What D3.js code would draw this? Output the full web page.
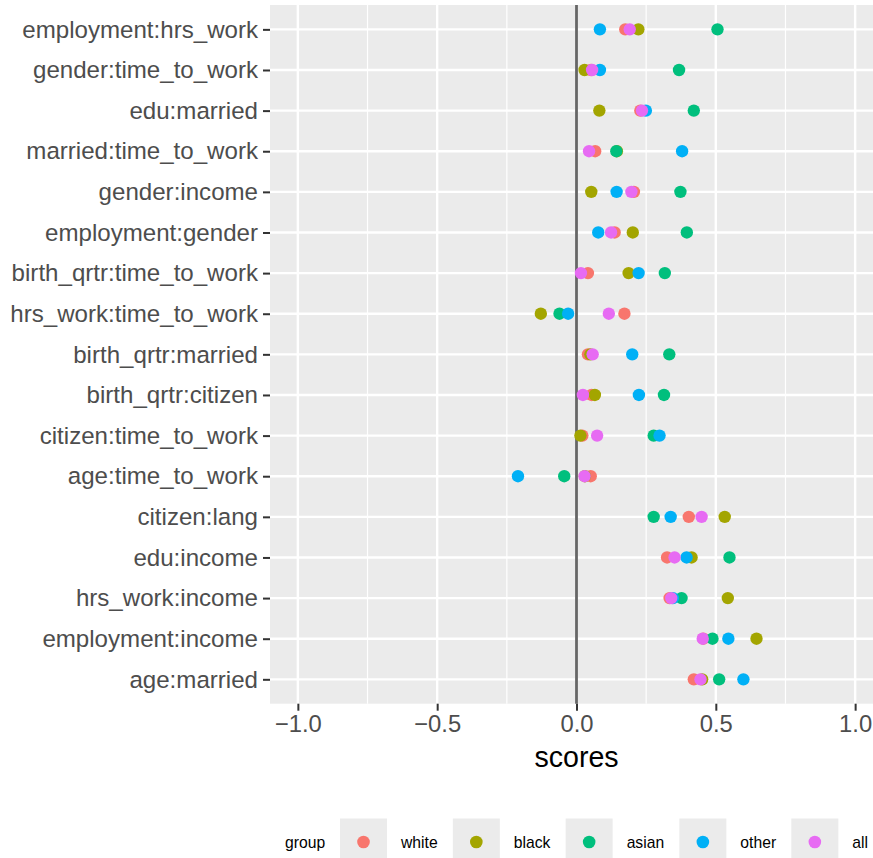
<!DOCTYPE html>
<html>
<head>
<meta charset="utf-8">
<script src="https://cdn.jsdelivr.net/npm/d3@7"></script>
<style>
  body { margin: 0; background: #fff; }
  text { font-family: "Liberation Sans", Arial, sans-serif; }
</style>
</head>
<body>
<svg id="chart"></svg>
<script>
const categories = [
  'employment:hrs_work', 'gender:time_to_work', 'edu:married', 'married:time_to_work',
  'gender:income', 'employment:gender', 'birth_qrtr:time_to_work', 'hrs_work:time_to_work',
  'birth_qrtr:married', 'birth_qrtr:citizen', 'citizen:time_to_work', 'age:time_to_work',
  'citizen:lang', 'edu:income', 'hrs_work:income', 'employment:income', 'age:married'
]
const groups = ['white', 'black', 'asian', 'other', 'all']
const colors = ['#F8766D', '#A3A500', '#00BF7D', '#00B0F6', '#E76BF3']

// scores per group, same order as categories
const white = [0.175, 0.052, 0.229, 0.067, 0.206, 0.137, 0.041, 0.172, 0.041, 0.054, 0.021, 0.051, 0.403, 0.325, 0.334, 0.455, 0.421]
const black = [0.222, 0.029, 0.082, 0.145, 0.053, 0.202, 0.187, -0.128, 0.050, 0.066, 0.014, 0.030, 0.532, 0.413, 0.543, 0.646, 0.451]
const asian = [0.506, 0.368, 0.421, 0.143, 0.373, 0.396, 0.317, -0.061, 0.333, 0.314, 0.277, -0.044, 0.277, 0.549, 0.377, 0.488, 0.512]
const other = [0.084, 0.084, 0.249, 0.379, 0.144, 0.078, 0.223, -0.030, 0.200, 0.224, 0.298, -0.210, 0.338, 0.395, 0.346, 0.545, 0.599]
const all = [0.191, 0.056, 0.235, 0.045, 0.197, 0.124, 0.016, 0.116, 0.058, 0.023, 0.074, 0.029, 0.449, 0.352, 0.340, 0.453, 0.445]

const xTicks = [-1, -0.5, 0, 0.5, 1]
const xMinor = [-0.75, -0.25, 0.25, 0.75]

const width = 873
const height = 858
const panel = { left: 270, right: 883, top: 5, bottom: 703.7 }

const svg = d3.select('#chart').attr('width', width).attr('height', height)

const x = d3.scaleLinear().domain([-1.1, 1.1]).range([panel.left, panel.right])
const y = d3.scalePoint().domain(categories).range([panel.top, panel.bottom]).padding(0.6)

/** panel background + grid */
svg.append('rect')
  .attr('x', panel.left).attr('y', panel.top)
  .attr('width', panel.right - panel.left).attr('height', panel.bottom - panel.top)
  .attr('fill', '#EBEBEB')

svg.append('g').selectAll('line').data(xMinor).enter().append('line')
  .attr('x1', d => x(d)).attr('x2', d => x(d))
  .attr('y1', panel.top).attr('y2', panel.bottom)
  .attr('stroke', '#fff').attr('stroke-width', 1.2)

svg.append('g').selectAll('line').data(xTicks).enter().append('line')
  .attr('x1', d => x(d)).attr('x2', d => x(d))
  .attr('y1', panel.top).attr('y2', panel.bottom)
  .attr('stroke', '#fff').attr('stroke-width', 2.4)

svg.append('g').selectAll('line').data(categories).enter().append('line')
  .attr('x1', panel.left).attr('x2', panel.right)
  .attr('y1', d => y(d)).attr('y2', d => y(d))
  .attr('stroke', '#fff').attr('stroke-width', 2.4)

// zero line
svg.append('line')
  .attr('x1', x(0)).attr('x2', x(0))
  .attr('y1', panel.top).attr('y2', panel.bottom)
  .attr('stroke', '#666').attr('stroke-width', 2.8)

/** points, one series at a time so "all" ends up on top */
const series = [white, black, asian, other, all]
series.forEach((vals, gi) => {
  svg.append('g').selectAll('circle').data(vals).enter().append('circle')
    .attr('cx', d => x(d))
    .attr('cy', (d, i) => y(categories[i]))
    .attr('r', 6.2)
    .attr('fill', colors[gi])
})

/** Axes */
const yAxis = d3.axisLeft(y).tickSize(7).tickPadding(5)
const gy = svg.append('g').attr('transform', `translate(${panel.left},0)`).call(yAxis)
gy.select('.domain').remove()
gy.selectAll('.tick line').attr('stroke', '#333').attr('stroke-width', 2)
gy.selectAll('.tick text').attr('fill', '#4D4D4D').style('font-size', '24.1px')

const xAxis = d3.axisBottom(x).tickValues(xTicks).tickSize(7).tickPadding(4)
  .tickFormat(d => d3.format('.1f')(d).replace('-', '\u2212'))
const gx = svg.append('g').attr('transform', `translate(0,${panel.bottom})`).call(xAxis)
gx.select('.domain').remove()
gx.selectAll('.tick line').attr('stroke', '#333').attr('stroke-width', 2)
gx.selectAll('.tick text').attr('fill', '#4D4D4D').style('font-size', '23.8px')

svg.append('text')
  .attr('x', x(0)).attr('y', 767)
  .attr('text-anchor', 'middle')
  .style('font-size', '28.6px')
  .attr('fill', '#000')
  .text('scores')

/** Legend */
const legend = svg.append('g')
const legY = 842
const keySize = 47
legend.append('text')
  .attr('x', 285).attr('y', legY + 5.5)
  .style('font-size', '15.7px').attr('fill', '#000')
  .text('group')
let lx = 340
groups.forEach((g, i) => {
  legend.append('rect')
    .attr('x', lx).attr('y', legY - keySize / 2)
    .attr('width', keySize).attr('height', keySize)
    .attr('fill', '#EBEBEB')
  legend.append('circle')
    .attr('cx', lx + keySize / 2).attr('cy', legY)
    .attr('r', 6.3).attr('fill', colors[i])
  const t = legend.append('text')
    .attr('x', lx + keySize + 14).attr('y', legY + 5.5)
    .style('font-size', '15.7px').attr('fill', '#000')
    .text(g)
  lx = lx + keySize + 14 + t.node().getComputedTextLength() + 15.2
})
</script>
</body>
</html>
